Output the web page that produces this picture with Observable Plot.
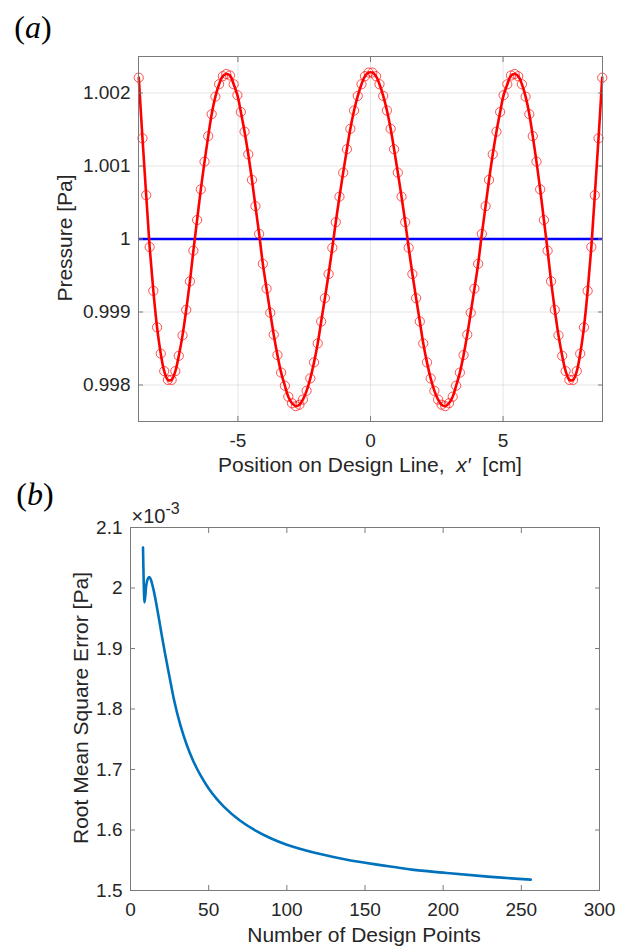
<!DOCTYPE html>
<html>
<head>
<meta charset="utf-8">
<script src="https://cdn.jsdelivr.net/npm/d3@7"></script>
<script src="https://cdn.jsdelivr.net/npm/@observablehq/plot@0.6"></script>
<style>
  html, body { margin: 0; padding: 0; background: #fff; }
  #wrap { position: relative; width: 621px; height: 949px; overflow: hidden; background: #fff;
          font-family: "Liberation Sans", Arial, Helvetica, sans-serif; color: #262626; }
  .pane { position: absolute; left: 0; }
  .lab { position: absolute; white-space: nowrap; font-size: 21px; line-height: 1; color: #262626;
         transform: translate(-50%, -50%); }
  .rot { transform: translate(-50%, -50%) rotate(-90deg); }
  .panel { position: absolute; white-space: nowrap; font-family: "Liberation Serif", "DejaVu Serif", serif;
           font-size: 32px; line-height: 1; color: #000; transform: translate(-50%, -50%); }
</style>
</head>
<body>
<div id="wrap">
  <div id="pa" class="pane" style="top:0"></div>
  <div id="pb" class="pane" style="top:485px"></div>
  <div class="panel" style="left:33px;top:27px">(<i>a</i>)</div>
  <div class="panel" style="left:35px;top:494px">(<i>b</i>)</div>
  <div class="lab rot" style="left:64px;top:238px">Pressure [Pa]</div>
  <div class="lab" style="left:370px;top:464px">Position on Design Line,&nbsp; <i>x′</i>&nbsp; [cm]</div>
  <div class="lab rot" style="left:80px;top:708px">Root Mean Square Error [Pa]</div>
  <div class="lab" style="left:364px;top:934px">Number of Design Points</div>
</div>
<script>
// ---------- Panel (a): pressure along the design line ----------
const designX = [
  -8.74, -8.60, -8.46, -8.33, -8.19, -8.05, -7.91, -7.78, -7.64, -7.50,
  -7.36, -7.23, -7.09, -6.95, -6.81, -6.68, -6.54, -6.40, -6.26, -6.12,
  -5.99, -5.85, -5.71, -5.57, -5.44, -5.30, -5.16, -5.02, -4.89, -4.75,
  -4.61, -4.47, -4.34, -4.20, -4.06, -3.92, -3.78, -3.65, -3.51, -3.37,
  -3.23, -3.10, -2.96, -2.82, -2.68, -2.55, -2.41, -2.27, -2.13, -1.99,
  -1.86, -1.72, -1.58, -1.44, -1.31, -1.17, -1.03, -0.89, -0.76, -0.62,
  -0.48, -0.34, -0.21, -0.07,
   0.07,  0.21,  0.34,  0.48,  0.62,  0.76,  0.89,  1.03,  1.17,  1.31,
   1.44,  1.58,  1.72,  1.86,  1.99,  2.13,  2.27,  2.41,  2.55,  2.68,
   2.82,  2.96,  3.10,  3.23,  3.37,  3.51,  3.65,  3.78,  3.92,  4.06,
   4.20,  4.34,  4.47,  4.61,  4.75,  4.89,  5.02,  5.16,  5.30,  5.44,
   5.57,  5.71,  5.85,  5.99,  6.12,  6.26,  6.40,  6.54,  6.68,  6.81,
   6.95,  7.09,  7.23,  7.36,  7.50,  7.64,  7.78,  7.91,  8.05,  8.19,
   8.33,  8.46,  8.60,  8.74
];
const pressure = [
  1.00221, 1.00138, 1.00060, 0.99989, 0.99929, 0.99879, 0.99843, 0.99819, 0.99807, 0.99807,
  0.99819, 0.99840, 0.99868, 0.99903, 0.99942, 0.99984, 1.00026, 1.00068, 1.00106, 1.00141,
  1.00171, 1.00195, 1.00212, 1.00223, 1.00226, 1.00224, 1.00212, 1.00197, 1.00174, 1.00147,
  1.00116, 1.00081, 1.00045, 1.00007, 0.99966, 0.99932, 0.99899, 0.99869, 0.99841, 0.99817,
  0.99799, 0.99784, 0.99775, 0.99771, 0.99773, 0.99780, 0.99792, 0.99809, 0.99831, 0.99857,
  0.99887, 0.99919, 0.99952, 0.99988, 1.00023, 1.00058, 1.00091, 1.00123, 1.00151, 1.00176,
  1.00196, 1.00212, 1.00223, 1.00228,
  1.00228, 1.00223, 1.00212, 1.00196, 1.00176, 1.00151, 1.00123, 1.00091, 1.00058, 1.00023,
  0.99988, 0.99952, 0.99919, 0.99887, 0.99857, 0.99831, 0.99809, 0.99792, 0.99780, 0.99773,
  0.99771, 0.99775, 0.99784, 0.99799, 0.99817, 0.99841, 0.99869, 0.99899, 0.99932, 0.99966,
  1.00007, 1.00045, 1.00081, 1.00116, 1.00147, 1.00174, 1.00197, 1.00212, 1.00224, 1.00226,
  1.00223, 1.00212, 1.00195, 1.00171, 1.00141, 1.00106, 1.00068, 1.00026, 0.99984, 0.99942,
  0.99903, 0.99868, 0.99840, 0.99819, 0.99807, 0.99807, 0.99819, 0.99843, 0.99879, 0.99929,
  0.99989, 1.00060, 1.00138, 1.00221
];
const targetPressure = [1];
const xTicksA = [-5, 0, 5];
const xTickLabelsA = ["-5", "0", "5"];
const yTicksA = [0.998, 0.999, 1, 1.001, 1.002];
const yTickLabelsA = ["0.998", "0.999", "1", "1.001", "1.002"];

// ---------- Panel (b): RMSE vs number of design points ----------
const nPoints = [8, 9, 10, 11, 12, 13, 14, 15, 16, 18, 20, 22, 25, 28, 32, 36, 40, 45, 50,
                 55, 60, 70, 80, 90, 100, 120, 140, 160, 180, 200, 225, 256];
const rmse = [0.002067, 0.001976, 0.002003, 0.002015, 0.002018, 0.002014, 0.002005, 0.001994,
              0.001981, 0.001952, 0.001922, 0.001893, 0.0018525, 0.0018133, 0.0017724, 0.0017405,
              0.0017149, 0.0016893, 0.0016687, 0.0016519, 0.0016378, 0.0016157, 0.0015990,
              0.0015860, 0.0015756, 0.0015610, 0.0015500, 0.0015420, 0.0015345, 0.0015295,
              0.0015237, 0.0015180];
const xTicksB = [0, 50, 100, 150, 200, 250, 300];
const xTickLabelsB = ["0", "50", "100", "150", "200", "250", "300"];
const yTicksB = [0.0015, 0.0016, 0.0017, 0.0018, 0.0019, 0.0020, 0.0021];
const yTickLabelsB = ["1.5", "1.6", "1.7", "1.8", "1.9", "2", "2.1"];
const exponentBase = ["×10"];
const exponentPower = ["-3"];

const FONT = "'Liberation Sans', Arial, Helvetica, sans-serif";
const fmt = (ticks, labels) => d => { const i = ticks.findIndex(t => Math.abs(t - d) < 1e-9); return i >= 0 ? labels[i] : ""; };
const blank = () => "";

function frameAxes(xT, xL, yT, yL, pad) {
  return [
    Plot.frame({stroke: "#7a7a7a", strokeWidth: 1}),
    Plot.axisX({anchor: "bottom", ticks: xT, tickSize: 0, tickPadding: pad, tickFormat: fmt(xT, xL), label: null, fontSize: 19, fill: "#262626"}),
    Plot.axisY({anchor: "left", ticks: yT, tickSize: 0, tickPadding: 8, tickFormat: fmt(yT, yL), label: null, fontSize: 19, fill: "#262626"}),
    Plot.axisX({anchor: "bottom", ticks: xT, tickSize: -5, tickFormat: blank, label: null, stroke: "#7a7a7a"}),
    Plot.axisX({anchor: "top", ticks: xT, tickSize: -5, tickFormat: blank, label: null, stroke: "#7a7a7a"}),
    Plot.axisY({anchor: "left", ticks: yT, tickSize: -5, tickFormat: blank, label: null, stroke: "#7a7a7a"}),
    Plot.axisY({anchor: "right", ticks: yT, tickSize: -5, tickFormat: blank, label: null, stroke: "#7a7a7a"})
  ];
}

const pts = designX.map((x, i) => ({x, p: pressure[i]}));

const plotA = Plot.plot({
  width: 621, height: 485,
  marginLeft: 138, marginRight: 19, marginTop: 56, marginBottom: 64,
  x: {domain: [-8.75, 8.75]},
  y: {domain: [0.9975, 1.0025]},
  style: {fontFamily: FONT, fontSize: "19px", color: "#262626", background: "#fff"},
  marks: [
    Plot.gridX(xTicksA, {stroke: "#000", strokeOpacity: 0.1}),
    Plot.gridY(yTicksA, {stroke: "#000", strokeOpacity: 0.1}),
    Plot.ruleY(targetPressure, {stroke: "#0000ff", strokeWidth: 2.6}),
    Plot.line(pts, {x: "x", y: "p", stroke: "#ff0000", strokeWidth: 2.6, curve: "catmull-rom"}),
    Plot.dot(pts, {x: "x", y: "p", r: 4.6, stroke: "#ff0000", strokeWidth: 0.8, strokeOpacity: 0.85, fill: "none"}),
    ...frameAxes(xTicksA, xTickLabelsA, yTicksA, yTickLabelsA, 12)
  ]
});
document.getElementById("pa").append(plotA);

const rows = nPoints.map((n, i) => ({n, e: rmse[i]}));
const plotB = Plot.plot({
  width: 621, height: 464,
  marginLeft: 130, marginRight: 22, marginTop: 42, marginBottom: 59,
  x: {domain: [0, 300]},
  y: {domain: [0.0015, 0.0021]},
  style: {fontFamily: FONT, fontSize: "19px", color: "#262626", background: "#fff"},
  marks: [
    Plot.line(rows, {x: "n", y: "e", stroke: "#0072bd", strokeWidth: 2.6, curve: "monotone-x"}),
    ...frameAxes(xTicksB, xTickLabelsB, yTicksB, yTickLabelsB, 12),
    Plot.text(exponentBase, {text: d => d, frameAnchor: "top-left", textAnchor: "start", lineAnchor: "bottom",
                             dx: 1, dy: -5, fontSize: 20, fill: "#262626"}),
    Plot.text(exponentPower, {text: d => d, frameAnchor: "top-left", textAnchor: "start", lineAnchor: "bottom",
                              dx: 35, dy: -14, fontSize: 16, fill: "#262626"})
  ]
});
document.getElementById("pb").append(plotB);
</script>
</body>
</html>
